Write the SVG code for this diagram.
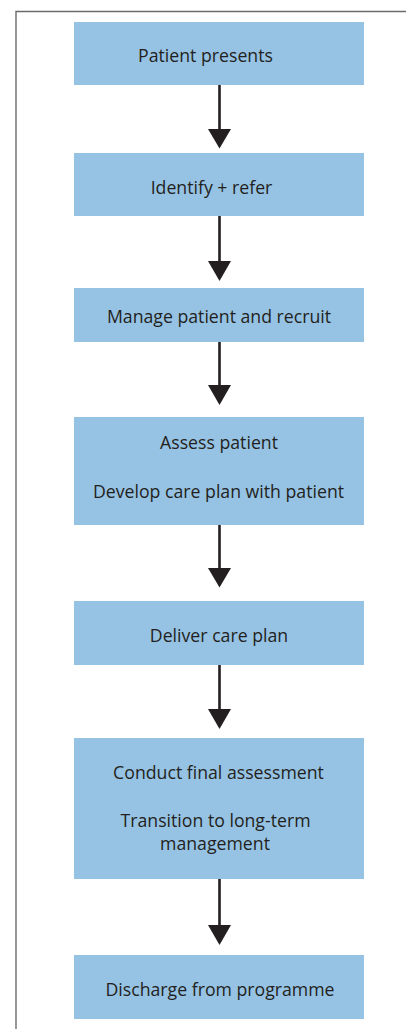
<svg xmlns="http://www.w3.org/2000/svg" width="406" height="1029" viewBox="0 0 406 1029">
<style>
.box{fill:#96c3e4}
.t{font-family:"Open Sans","Noto Sans",sans-serif;font-size:17.7px;fill:#231f20;text-anchor:middle}
.ln{stroke:#231f20;stroke-width:2.6;fill:none}
.hd{fill:#231f20}
</style>
<rect width="406" height="1029" fill="#ffffff"/>
<path d="M16,1029 V11.5 H406" fill="none" stroke="#6b6b6b" stroke-width="1.4"/>
<g id="connectors">
<line class="ln" x1="219.5" y1="85" x2="219.5" y2="131"/><polygon class="hd" points="208,129 231,129 219.5,148.5"/>
<line class="ln" x1="219.5" y1="216" x2="219.5" y2="263"/><polygon class="hd" points="208,261 231,261 219.5,281"/>
<line class="ln" x1="219.5" y1="342" x2="219.5" y2="387"/><polygon class="hd" points="208,385 231,385 219.5,405"/>
<line class="ln" x1="219.5" y1="525" x2="219.5" y2="570"/><polygon class="hd" points="208,568 231,568 219.5,587.5"/>
<line class="ln" x1="219.5" y1="665" x2="219.5" y2="711"/><polygon class="hd" points="208,709 231,709 219.5,729"/>
<line class="ln" x1="219.5" y1="879" x2="219.5" y2="927"/><polygon class="hd" points="208,925 231,925 219.5,945"/>
</g>
<g id="n1"><rect class="box" x="74" y="22" width="290" height="63"/><text class="t" x="205.5" y="62">Patient presents</text></g>
<g id="n2"><rect class="box" x="74" y="153" width="290" height="63"/><text class="t" x="211.5" y="194">Identify + refer</text></g>
<g id="n3"><rect class="box" x="74" y="288" width="290" height="54"/><text class="t" x="219" y="322.5">Manage patient and recruit</text></g>
<g id="n4"><rect class="box" x="74" y="417" width="290" height="108"/><text class="t" x="219" y="449">Assess patient</text><text class="t" x="218.5" y="498">Develop care plan with patient</text></g>
<g id="n5"><rect class="box" x="74" y="601" width="290" height="64"/><text class="t" x="219" y="641.5">Deliver care plan</text></g>
<g id="n6"><rect class="box" x="74" y="738" width="290" height="141"/><text class="t" x="218.5" y="779">Conduct final assessment</text><text class="t" x="215.5" y="826.5">Transition to long-term</text><text class="t" x="215" y="850">management</text></g>
<g id="n7"><rect class="box" x="74" y="955" width="290" height="64"/><text class="t" x="220" y="996">Discharge from programme</text></g>
</svg>
